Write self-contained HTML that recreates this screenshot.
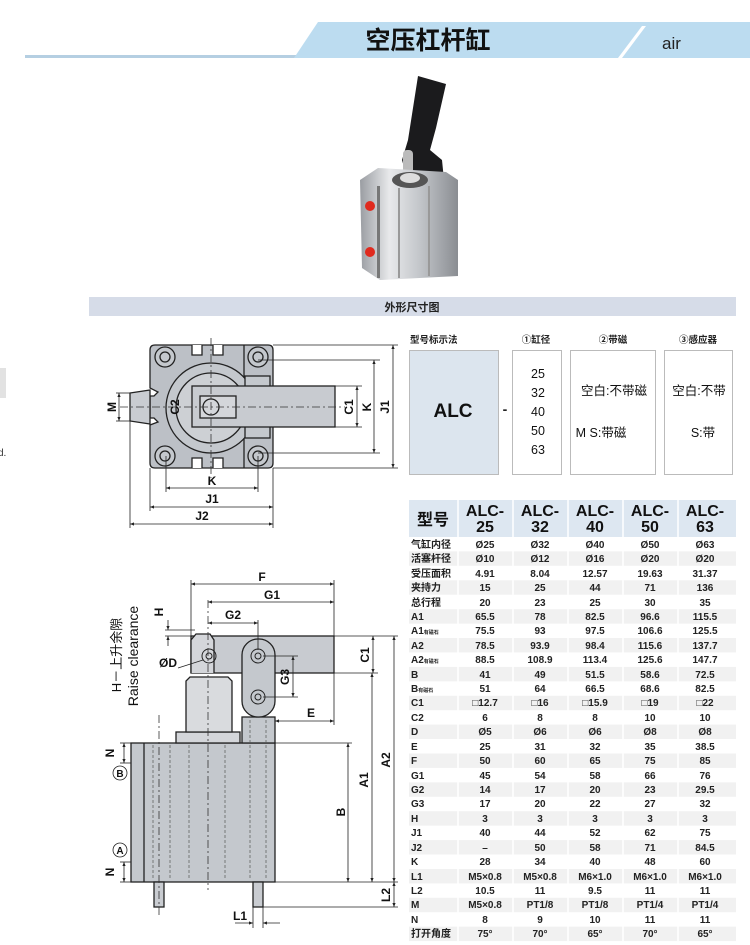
<!DOCTYPE html>
<html><head><meta charset="utf-8"><style>
html,body{margin:0;padding:0;background:#fff}
svg{display:block}
text{font-family:"Liberation Sans","Noto Sans CJK SC",sans-serif}
</style></head><body>
<svg width="750" height="945" viewBox="0 0 750 945" xmlns="http://www.w3.org/2000/svg">
<defs>
<marker id="a" viewBox="0 0 10 10" refX="10" refY="5" markerWidth="5" markerHeight="5" orient="auto-start-reverse"><path d="M0,1 L10,5 L0,9z" fill="#222"/></marker>
<linearGradient id="al" x1="0" x2="1"><stop offset="0" stop-color="#9a9da2"/><stop offset=".3" stop-color="#e8e9eb"/><stop offset=".6" stop-color="#c4c7cb"/><stop offset="1" stop-color="#8a8d92"/></linearGradient>
</defs>
<rect x="25" y="55" width="275" height="3" fill="#b5cfe2"/>
<path d="M294,58 L318,22 L750,22 L750,58 Z" fill="#bcdcf0"/>
<path d="M618,58 L642,26 L646,26 L622,58Z" fill="#fff"/>
<text x="428" y="49" font-size="25" font-weight="bold" text-anchor="middle" fill="#111">空压杠杆缸</text>
<text x="662" y="49" font-size="17" fill="#222">air</text>
<rect x="0" y="368" width="6" height="30" fill="#e2e2e2"/>
<text x="-2" y="456" font-size="10" fill="#333">d.</text>
<g>
<path d="M418,76 L446,84 L436,128 L430,150 L442,160 L444,180 L410,188 L402,160 L408,140 Z" fill="#1b1b1d"/>
<rect x="403" y="150" width="10" height="30" rx="4" fill="#bbb"/>
<path d="M360,180 L378,168 L446,172 L458,180 L458,276 L380,280 L362,268 Z" fill="url(#al)"/>
<ellipse cx="410" cy="180" rx="18" ry="8" fill="#555"/>
<ellipse cx="410" cy="178" rx="10" ry="5" fill="#ddd"/>
<rect x="377" y="186" width="3" height="92" fill="#777"/>
<rect x="398" y="188" width="2" height="90" fill="#999"/>
<rect x="428" y="186" width="2" height="90" fill="#999"/>
<circle cx="370" cy="206" r="5" fill="#e02a1e"/>
<circle cx="370" cy="252" r="5" fill="#e02a1e"/>
</g>
<rect x="89" y="297" width="647" height="19" fill="#d6dce8"/>
<text x="412" y="311" font-size="11" font-weight="bold" text-anchor="middle" fill="#222">外形尺寸图</text>

<g stroke="#222" stroke-width="1.3" fill="none">
<path d="M150,350 Q150,345 155,345 L268,345 Q273,345 273,350 L273,463 Q273,468 268,468 L155,468 Q150,468 150,463 L150,425 L158,422 L154,418 L150,418 L150,396 L154,396 L158,392 L150,388 Z" fill="#bcc0c6"/>
<line x1="244" y1="345" x2="244" y2="468"/>
<path d="M130,393 L150,390 L150,424 L130,421 Z" fill="#c9ccd1"/>
<circle cx="211" cy="408" r="45" fill="#c4c8cd"/>
<circle cx="211" cy="408" r="35" fill="#cdd0d4"/>
<circle cx="165" cy="357" r="10" fill="#c4c8cd"/><circle cx="165" cy="357" r="5"/>
<circle cx="258" cy="357" r="10" fill="#c4c8cd"/><circle cx="258" cy="357" r="5"/>
<circle cx="165" cy="456" r="10" fill="#c4c8cd"/><circle cx="165" cy="456" r="5"/>
<circle cx="258" cy="456" r="10" fill="#c4c8cd"/><circle cx="258" cy="456" r="5"/>
<path d="M192,345 v10 h10 v-10 M213,345 v10 h10 v-10" fill="#fff"/>
<path d="M192,468 v-10 h10 v10 M213,468 v-10 h10 v10" fill="#fff"/>
<rect x="245" y="376" width="25" height="62" fill="#c4c8cd"/>
<rect x="192" y="386" width="143" height="41" fill="#c8cbd0"/>
<rect x="200" y="396" width="36" height="22" fill="#d4d6da"/>
<circle cx="211" cy="407" r="8"/>
</g>
<g stroke="#333" stroke-width=".8" fill="none" stroke-dasharray="8,3,2,3">
<line x1="120" y1="407" x2="345" y2="407"/>
<line x1="211" y1="338" x2="211" y2="478"/>
</g>
<g stroke="#222" stroke-width=".8" fill="none">
<line x1="273" y1="345" x2="398" y2="345"/><line x1="273" y1="468" x2="398" y2="468"/>
<line x1="258" y1="360" x2="380" y2="360"/><line x1="258" y1="453" x2="380" y2="453"/>
<line x1="335" y1="386" x2="362" y2="386"/><line x1="335" y1="427" x2="362" y2="427"/>
<line x1="393" y1="345" x2="393" y2="468" marker-start="url(#a)" marker-end="url(#a)"/>
<line x1="374" y1="360" x2="374" y2="453" marker-start="url(#a)" marker-end="url(#a)"/>
<line x1="357" y1="386" x2="357" y2="427" marker-start="url(#a)" marker-end="url(#a)"/>
<line x1="166" y1="456" x2="166" y2="492"/><line x1="258" y1="456" x2="258" y2="492"/>
<line x1="150" y1="468" x2="150" y2="511"/><line x1="273" y1="468" x2="273" y2="528"/>
<line x1="130" y1="421" x2="130" y2="528"/>
<line x1="166" y1="488" x2="258" y2="488" marker-start="url(#a)" marker-end="url(#a)"/>
<line x1="150" y1="507" x2="273" y2="507" marker-start="url(#a)" marker-end="url(#a)"/>
<line x1="130" y1="524" x2="273" y2="524" marker-start="url(#a)" marker-end="url(#a)"/>
<line x1="116" y1="393" x2="130" y2="393"/><line x1="116" y1="421" x2="130" y2="421"/>
<line x1="119" y1="393" x2="119" y2="421" marker-start="url(#a)" marker-end="url(#a)"/>
</g>
<g font-size="12" font-weight="bold" fill="#111" text-anchor="middle">
<text x="212" y="485">K</text><text x="212" y="503">J1</text><text x="202" y="520">J2</text>
<text transform="translate(116,407) rotate(-90)">M</text>
<text transform="translate(179,407) rotate(-90)">C2</text>
<text transform="translate(353,407) rotate(-90)">C1</text>
<text transform="translate(371,407) rotate(-90)">K</text>
<text transform="translate(389,407) rotate(-90)">J1</text>
</g>

<g stroke="#222" stroke-width="1.3">
<rect x="131" y="743" width="144" height="139" fill="#c4c8cd"/>
<line x1="144" y1="743" x2="144" y2="882"/>
<rect x="176" y="732" width="64" height="11" fill="#d4d6da"/>
<path d="M186,732 L186,681 L190,677 L228,677 L232,681 L232,732Z" fill="#d9dbde"/>
<rect x="191" y="636" width="143" height="37" fill="#c8cbd0"/>
<path d="M191,673 L191,640 L196,634 L210,634 L214,640 L214,673" fill="#d4d6da"/>
<rect x="242" y="717" width="33" height="26" fill="#c4c8cd"/>
<rect x="242" y="639" width="33" height="78" rx="16" fill="#c4c8cd"/>
<rect x="154" y="882" width="10" height="25" fill="#c9ccd1"/>
<rect x="253" y="882" width="10" height="25" fill="#c9ccd1"/>
</g>
<g stroke="#222" stroke-width="1" fill="none">
<circle cx="209" cy="656" r="7"/><circle cx="209" cy="656" r="3"/>
<circle cx="258" cy="656" r="7"/><circle cx="258" cy="656" r="3"/>
<circle cx="258" cy="697" r="7"/><circle cx="258" cy="697" r="3"/>
</g>
<g stroke="#555" stroke-width=".7" fill="none" stroke-dasharray="3,2">
<line x1="170" y1="745" x2="170" y2="880"/><line x1="153" y1="745" x2="153" y2="880"/>
<line x1="189" y1="745" x2="189" y2="880"/><line x1="225" y1="745" x2="225" y2="880"/>
<line x1="250" y1="720" x2="250" y2="880"/><line x1="266" y1="720" x2="266" y2="880"/>
</g>
<g stroke="#333" stroke-width=".8" fill="none" stroke-dasharray="8,3,2,3">
<line x1="208" y1="600" x2="208" y2="890"/>
<line x1="159" y1="715" x2="159" y2="915"/>
</g>
<g stroke="#222" stroke-width=".8" fill="none">
<line x1="191" y1="580" x2="191" y2="636"/><line x1="334" y1="580" x2="334" y2="725"/>
<line x1="258" y1="620" x2="258" y2="650"/>
<line x1="191" y1="584" x2="334" y2="584" marker-start="url(#a)" marker-end="url(#a)"/>
<line x1="208" y1="602" x2="334" y2="602" marker-start="url(#a)" marker-end="url(#a)"/>
<line x1="208" y1="623" x2="258" y2="623" marker-start="url(#a)" marker-end="url(#a)"/>
<line x1="275" y1="721" x2="334" y2="721" marker-start="url(#a)" marker-end="url(#a)"/>
<line x1="165" y1="630" x2="195" y2="630"/><line x1="165" y1="636" x2="195" y2="636"/>
<line x1="168" y1="620" x2="168" y2="630" marker-end="url(#a)"/>
<line x1="168" y1="646" x2="168" y2="636" marker-end="url(#a)"/>
<line x1="334" y1="636" x2="398" y2="636"/><line x1="334" y1="673" x2="378" y2="673"/>
<line x1="275" y1="882" x2="398" y2="882"/><line x1="275" y1="743" x2="352" y2="743"/>
<line x1="263" y1="907" x2="398" y2="907"/>
<line x1="373" y1="636" x2="373" y2="673" marker-start="url(#a)" marker-end="url(#a)"/>
<line x1="394" y1="636" x2="394" y2="882" marker-start="url(#a)" marker-end="url(#a)"/>
<line x1="372" y1="673" x2="372" y2="882" marker-start="url(#a)" marker-end="url(#a)"/>
<line x1="348" y1="743" x2="348" y2="882" marker-start="url(#a)" marker-end="url(#a)"/>
<line x1="394" y1="882" x2="394" y2="907" marker-start="url(#a)" marker-end="url(#a)"/>
<line x1="263" y1="656" x2="298" y2="656"/><line x1="263" y1="697" x2="298" y2="697"/>
<line x1="293" y1="656" x2="293" y2="697" marker-start="url(#a)" marker-end="url(#a)"/>
<line x1="253" y1="907" x2="253" y2="928"/><line x1="263" y1="907" x2="263" y2="928"/>
<line x1="235" y1="923" x2="253" y2="923" marker-end="url(#a)"/>
<line x1="280" y1="923" x2="263" y2="923" marker-end="url(#a)"/>
<line x1="120" y1="743" x2="131" y2="743"/><line x1="120" y1="763" x2="131" y2="763"/>
<line x1="124" y1="743" x2="124" y2="763" marker-start="url(#a)" marker-end="url(#a)"/>
<line x1="120" y1="862" x2="131" y2="862"/><line x1="120" y1="882" x2="131" y2="882"/>
<line x1="124" y1="862" x2="124" y2="882" marker-start="url(#a)" marker-end="url(#a)"/>
<line x1="178" y1="668" x2="203" y2="660"/>
<circle cx="120" cy="773" r="7"/><circle cx="120" cy="850" r="7"/>
</g>
<g font-size="12" font-weight="bold" fill="#111" text-anchor="middle">
<text x="262" y="581">F</text><text x="272" y="599">G1</text><text x="233" y="619">G2</text>
<text x="311" y="717">E</text><text x="240" y="920">L1</text>
<text x="168" y="667">ØD</text>
<text transform="translate(163,612) rotate(-90)">H</text>
<text transform="translate(369,655) rotate(-90)">C1</text>
<text transform="translate(390,760) rotate(-90)">A2</text>
<text transform="translate(368,780) rotate(-90)">A1</text>
<text transform="translate(345,812) rotate(-90)">B</text>
<text transform="translate(390,895) rotate(-90)">L2</text>
<text transform="translate(289,677) rotate(-90)">G3</text>
<text transform="translate(114,753) rotate(-90)">N</text>
<text transform="translate(114,872) rotate(-90)">N</text>
<text x="120" y="777" font-size="10">B</text><text x="120" y="854" font-size="10">A</text>
<text transform="translate(121,655) rotate(-90)" font-size="13" font-weight="normal">H－上升余隙</text>
<text transform="translate(138,656) rotate(-90)" font-size="14" font-weight="normal">Raise clearance</text>
</g>

<g font-size="9.5" font-weight="bold" fill="#222">
<text x="410" y="343">型号标示法</text>
<text x="536" y="343" text-anchor="middle">①缸径</text>
<text x="613" y="343" text-anchor="middle">②带磁</text>
<text x="698" y="343" text-anchor="middle">③感应器</text>
</g>
<g stroke="#bbb" stroke-width="1">
<rect x="409.5" y="350.5" width="89" height="124" fill="#dce5ee"/>
<rect x="512.5" y="350.5" width="49" height="124" fill="#fff"/>
<rect x="570.5" y="350.5" width="85" height="124" fill="#fff"/>
<rect x="664.5" y="350.5" width="68" height="124" fill="#fff"/>
</g>
<text x="453" y="417" font-size="19" font-weight="bold" text-anchor="middle" fill="#111">ALC</text>
<text x="505" y="414" font-size="14" font-weight="bold" text-anchor="middle" fill="#222">-</text>
<g font-size="12.5" fill="#111" text-anchor="middle">
<text x="538" y="378">25</text><text x="538" y="397">32</text><text x="538" y="416">40</text><text x="538" y="435">50</text><text x="538" y="454">63</text>
<text x="614" y="395">空白:不带磁</text>
<text x="601" y="437">M  S:带磁</text>
<text x="699" y="395">空白:不带</text>
<text x="703" y="437">S:带</text>
</g>

<rect x="409" y="500" width="327" height="37" fill="#dde7f1"/>
<g fill="#f1f1f1">
<rect x="409" y="551.4" width="327" height="14.4"/><rect x="409" y="580.3" width="327" height="14.4"/>
<rect x="409" y="609.2" width="327" height="14.4"/><rect x="409" y="638.0" width="327" height="14.4"/>
<rect x="409" y="666.9" width="327" height="14.4"/><rect x="409" y="695.8" width="327" height="14.4"/>
<rect x="409" y="724.6" width="327" height="14.4"/><rect x="409" y="753.5" width="327" height="14.4"/>
<rect x="409" y="782.4" width="327" height="14.4"/><rect x="409" y="811.2" width="327" height="14.4"/>
<rect x="409" y="840.1" width="327" height="14.4"/><rect x="409" y="869.0" width="327" height="14.4"/>
<rect x="409" y="897.8" width="327" height="14.4"/><rect x="409" y="926.7" width="327" height="14.4"/>
</g>
<g stroke="#fff" stroke-width="1.5">
<line x1="458" y1="500" x2="458" y2="941"/><line x1="513" y1="500" x2="513" y2="941"/>
<line x1="568" y1="500" x2="568" y2="941"/><line x1="623" y1="500" x2="623" y2="941"/>
<line x1="678" y1="500" x2="678" y2="941"/>
</g>
<g font-size="16" font-weight="bold" fill="#111" text-anchor="middle">
<text x="433" y="525" font-size="16">型号</text>
<text x="485" y="516">ALC-</text><text x="485" y="532">25</text>
<text x="540" y="516">ALC-</text><text x="540" y="532">32</text>
<text x="595" y="516">ALC-</text><text x="595" y="532">40</text>
<text x="650" y="516">ALC-</text><text x="650" y="532">50</text>
<text x="705" y="516">ALC-</text><text x="705" y="532">63</text>
</g>
<g font-size="10" font-weight="bold" fill="#222">
<g>
<text x="411" y="548">气缸内径</text><text x="411" y="562">活塞杆径</text><text x="411" y="577">受压面积</text>
<text x="411" y="591">夹持力</text><text x="411" y="606">总行程</text><text x="411" y="620">A1</text>
<text x="411" y="634">A1<tspan font-size="5">有磁石</tspan></text><text x="411" y="649">A2</text>
<text x="411" y="663">A2<tspan font-size="5">有磁石</tspan></text><text x="411" y="678">B</text>
<text x="411" y="692">B<tspan font-size="5">有磁石</tspan></text><text x="411" y="706">C1</text>
<text x="411" y="721">C2</text><text x="411" y="735">D</text><text x="411" y="750">E</text>
<text x="411" y="764">F</text><text x="411" y="779">G1</text><text x="411" y="793">G2</text>
<text x="411" y="807">G3</text><text x="411" y="822">H</text><text x="411" y="836">J1</text>
<text x="411" y="851">J2</text><text x="411" y="865">K</text><text x="411" y="880">L1</text>
<text x="411" y="894">L2</text><text x="411" y="908">M</text><text x="411" y="923">N</text>
<text x="411" y="937">打开角度</text>
</g>
<g text-anchor="middle">
<g transform="translate(485,0)"><text y="548">Ø25</text><text y="562">Ø10</text><text y="577">4.91</text><text y="591">15</text><text y="606">20</text><text y="620">65.5</text><text y="634">75.5</text><text y="649">78.5</text><text y="663">88.5</text><text y="678">41</text><text y="692">51</text><text y="706">□12.7</text><text y="721">6</text><text y="735">Ø5</text><text y="750">25</text><text y="764">50</text><text y="779">45</text><text y="793">14</text><text y="807">17</text><text y="822">3</text><text y="836">40</text><text y="851">–</text><text y="865">28</text><text y="880">M5×0.8</text><text y="894">10.5</text><text y="908">M5×0.8</text><text y="923">8</text><text y="937">75°</text></g>
<g transform="translate(540,0)"><text y="548">Ø32</text><text y="562">Ø12</text><text y="577">8.04</text><text y="591">25</text><text y="606">23</text><text y="620">78</text><text y="634">93</text><text y="649">93.9</text><text y="663">108.9</text><text y="678">49</text><text y="692">64</text><text y="706">□16</text><text y="721">8</text><text y="735">Ø6</text><text y="750">31</text><text y="764">60</text><text y="779">54</text><text y="793">17</text><text y="807">20</text><text y="822">3</text><text y="836">44</text><text y="851">50</text><text y="865">34</text><text y="880">M5×0.8</text><text y="894">11</text><text y="908">PT1/8</text><text y="923">9</text><text y="937">70°</text></g>
<g transform="translate(595,0)"><text y="548">Ø40</text><text y="562">Ø16</text><text y="577">12.57</text><text y="591">44</text><text y="606">25</text><text y="620">82.5</text><text y="634">97.5</text><text y="649">98.4</text><text y="663">113.4</text><text y="678">51.5</text><text y="692">66.5</text><text y="706">□15.9</text><text y="721">8</text><text y="735">Ø6</text><text y="750">32</text><text y="764">65</text><text y="779">58</text><text y="793">20</text><text y="807">22</text><text y="822">3</text><text y="836">52</text><text y="851">58</text><text y="865">40</text><text y="880">M6×1.0</text><text y="894">9.5</text><text y="908">PT1/8</text><text y="923">10</text><text y="937">65°</text></g>
<g transform="translate(650,0)"><text y="548">Ø50</text><text y="562">Ø20</text><text y="577">19.63</text><text y="591">71</text><text y="606">30</text><text y="620">96.6</text><text y="634">106.6</text><text y="649">115.6</text><text y="663">125.6</text><text y="678">58.6</text><text y="692">68.6</text><text y="706">□19</text><text y="721">10</text><text y="735">Ø8</text><text y="750">35</text><text y="764">75</text><text y="779">66</text><text y="793">23</text><text y="807">27</text><text y="822">3</text><text y="836">62</text><text y="851">71</text><text y="865">48</text><text y="880">M6×1.0</text><text y="894">11</text><text y="908">PT1/4</text><text y="923">11</text><text y="937">70°</text></g>
<g transform="translate(705,0)"><text y="548">Ø63</text><text y="562">Ø20</text><text y="577">31.37</text><text y="591">136</text><text y="606">35</text><text y="620">115.5</text><text y="634">125.5</text><text y="649">137.7</text><text y="663">147.7</text><text y="678">72.5</text><text y="692">82.5</text><text y="706">□22</text><text y="721">10</text><text y="735">Ø8</text><text y="750">38.5</text><text y="764">85</text><text y="779">76</text><text y="793">29.5</text><text y="807">32</text><text y="822">3</text><text y="836">75</text><text y="851">84.5</text><text y="865">60</text><text y="880">M6×1.0</text><text y="894">11</text><text y="908">PT1/4</text><text y="923">11</text><text y="937">65°</text></g>
</g>
</g>
</svg>
</body></html>
